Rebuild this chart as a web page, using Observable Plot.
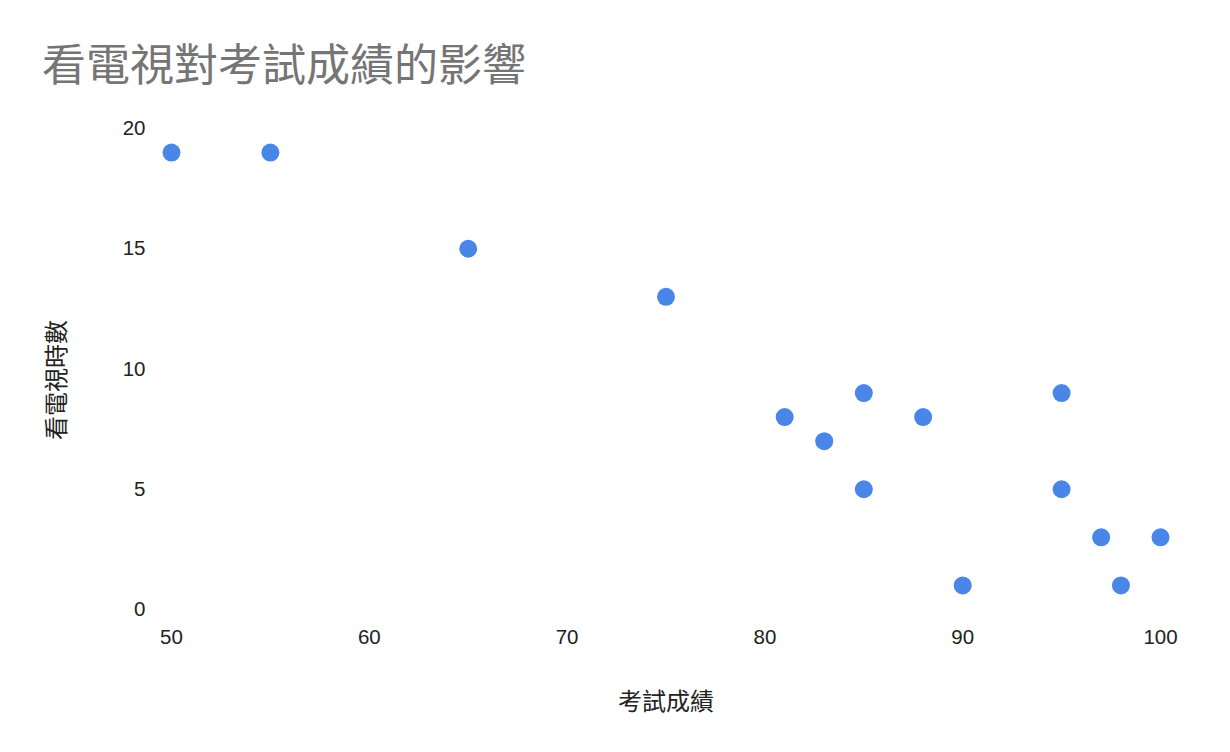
<!DOCTYPE html>
<html>
<head>
<meta charset="utf-8">
<script src="https://cdn.jsdelivr.net/npm/d3@7"></script>
<script src="https://cdn.jsdelivr.net/npm/@observablehq/plot@0.6"></script>
<style>
  body { margin: 0; background: #fff; }
  #wrap { position: relative; width: 1230px; height: 752px; overflow: hidden; font-family: "Liberation Sans", Arial, "Noto Sans CJK TC", sans-serif; }
  #title { position: absolute; left: 42px; top: 44px; font-size: 44px; line-height: 44px; color: #757575; font-family: "Liberation Sans", "Noto Sans CJK TC", sans-serif; white-space: nowrap; }
  #chart { position: absolute; left: 0; top: 100px; }
</style>
</head>
<body>
<div id="wrap">
  <div id="title">看電視對考試成績的影響</div>
  <div id="chart"></div>
</div>
<script>
const scores = [50, 55, 65, 75, 81, 83, 85, 85, 88, 90, 95, 95, 97, 98, 100];
const tvHours = [19, 19, 15, 13, 8, 7, 9, 5, 8, 1, 9, 5, 3, 1, 3];
const xTicks = [50, 60, 70, 80, 90, 100];
const yTicks = [0, 5, 10, 15, 20];
const xLabel = "考試成績";
const yLabel = "看電視時數";

const data = scores.map((s, i) => ({score: s, hours: tvHours[i]}));

const plot = Plot.plot({
  width: 1230,
  height: 652,
  marginLeft: 171,
  marginRight: 70,
  marginTop: 28,
  marginBottom: 143,
  style: {fontFamily: '"Liberation Sans", Arial, "Noto Sans CJK TC", sans-serif', fontSize: "20px", color: "#222", background: "transparent"},
  x: {domain: [50, 100]},
  y: {domain: [0, 20]},
  marks: [
    Plot.axisX({ticks: xTicks, tickSize: 0, tickPadding: 20, label: null, fontSize: 20.5, fill: "#222"}),
    Plot.axisY({ticks: yTicks, tickSize: 0, tickPadding: 26, label: null, fontSize: 20.5, fill: "#222"}),
    Plot.dot(data, {x: "score", y: "hours", r: 9, fill: "#4a86e8", stroke: "none"}),
    Plot.text([xLabel], {frameAnchor: "bottom", text: d => d, dy: 100, fontSize: 24, fill: "#222"}),
    Plot.text([yLabel], {frameAnchor: "left", textAnchor: "middle", text: d => d, dx: -114, dy: 11, rotate: -90, fontSize: 24, fill: "#222"})
  ]
});
document.getElementById("chart").appendChild(plot);
</script>
</body>
</html>
